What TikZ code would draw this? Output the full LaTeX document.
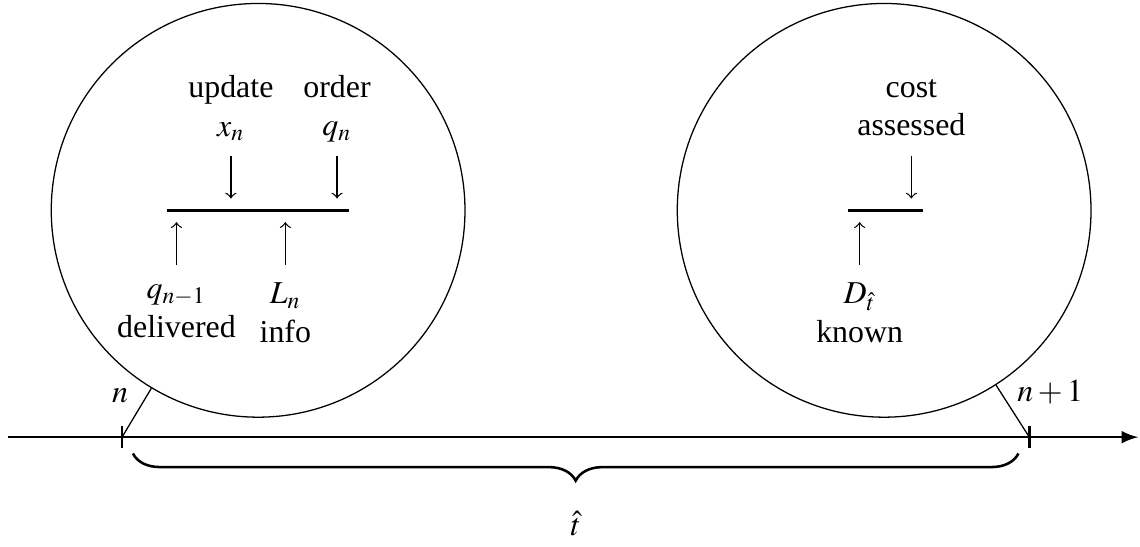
\documentclass[tikz,border=0pt]{standalone}
\usepackage{amsmath}
\usepackage{mathptmx}
\usepackage{fontspec}
\setmainfont{Liberation Serif}
\usepackage{tikz}
\usetikzlibrary{shapes,arrows,positioning,calc,decorations.pathreplacing}
\tikzset{
    period/.style={circle,draw,minimum size=4.56cm,inner sep=0pt},
    event/.style={align=center,inner sep=3pt},
    bar/.style={thick},
    into/.style={->,shorten >=0.13cm}
}

\begin{document}
\begin{tikzpicture}
    \useasboundingbox (-1.345,-1.202) rectangle (11.22,4.818);
    \coordinate (axisstart) at (-1.26,0);
    \coordinate (axisend) at (11.2,0);
    \coordinate (tickL) at (0,0);
    \coordinate (tickR) at (10,0);
    \draw[-latex,thick] (axisstart) -- (axisend);
    \draw[thick] (tickL) ++(0,0.12) -- ++(0,-0.24);
    \draw[thick] (tickR) ++(0,0.12) -- ++(0,-0.24);
    \node[period] (periodL) at (1.5,2.5) {};
    \node[period] (periodR) at (8.4,2.5) {};
    \draw (tickL) -- (periodL);
    \draw (tickR) -- (periodR);
    \node (lblN) at (-0.02,0.46) {$n$};
    \node (lblN1) at (10.23,0.5) {$n+1$};
    % decision epoch n
    \coordinate (barL1) at (0.5,2.5);
    \coordinate (barL2) at (2.5,2.5);
    \draw[bar] (barL1) -- (barL2);
    \coordinate (updin) at (1.2,3.1);
    \coordinate (ordin) at (2.37,3.1);
    \coordinate (delin) at (0.6,1.9);
    \coordinate (infin) at (1.8,1.9);
    \node[event,above=0.05cm of updin] (update) {update\\$x_n$};
    \node[event,above=0.04cm of ordin] (order) {order\\$q_n$};
    \node[event,below=0.11cm of delin] (deliv) {$q_{n-1}$\\delivered};
    \node[event,below=0.09cm of infin] (info) {$L_n$\\info};
    \draw[into] (updin) -- (updin |- barL1);
    \draw[into] (ordin) -- (ordin |- barL1);
    \draw[into] (delin) -- (delin |- barL1);
    \draw[into] (infin) -- (infin |- barL1);
    % end of period
    \coordinate (barR1) at (8.0,2.5);
    \coordinate (barR2) at (8.83,2.5);
    \draw[bar] (barR1) -- (barR2);
    \coordinate (costin) at (8.7,3.1);
    \coordinate (knownin) at (8.13,1.9);
    \node[event,above=0.11cm of costin] (cost) {cost\\assessed};
    \node[event,below=0.09cm of knownin] (known) {$D_{\hat{t}}$\\known};
    \draw[into] (costin) -- (costin |- barR1);
    \draw[into] (knownin) -- (knownin |- barR1);
    % length of the period
    \coordinate (braceL) at (0.12,-0.18);
    \coordinate (braceR) at (9.88,-0.18);
    \draw[thick,decorate,decoration={brace,mirror,amplitude=0.3cm}] (braceL) -- (braceR);
    \node (that) at (5,-0.95) {$\hat{t}$};
\end{tikzpicture}
\end{document}
